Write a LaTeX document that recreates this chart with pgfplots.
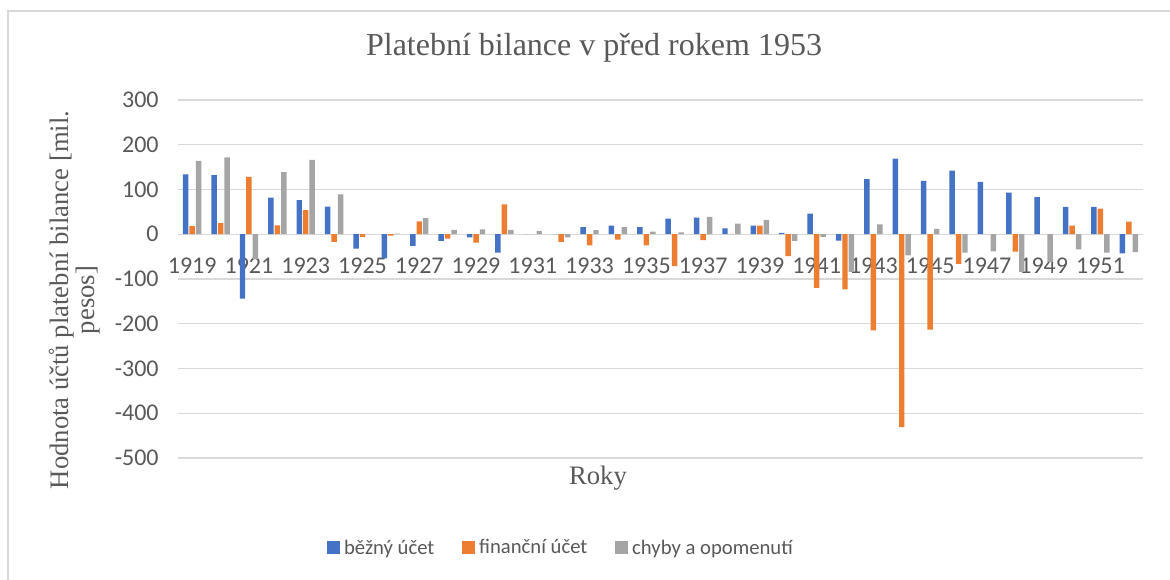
\documentclass[border=0pt]{standalone}
\usepackage{pgfplots}
\pgfplotsset{compat=1.18}
\usepackage{fontspec}
\setmainfont{Liberation Serif}
\newfontfamily\calibri{Carlito}

\definecolor{cbeh}{HTML}{4472C4}
\definecolor{cfin}{HTML}{ED7D31}
\definecolor{cchy}{HTML}{A5A5A5}
\definecolor{txtgray}{HTML}{595959}
\definecolor{gridgray}{HTML}{D9D9D9}

% rok, bezny ucet, financni ucet, chyby a opomenuti
\pgfplotstableread{
rok  bez   fin   chy
1919 134   18    164
1920 132   25    172
1921 -144  128   -55
1922 82    20    139
1923 76    54    166
1924 62    -17   89
1925 -32   -6    0
1926 -54   -3    1.5
1927 -26   29    36
1928 -15   -10   10
1929 -7    -19   11
1930 -41   67    10
1931 0     0     7
1932 0     -17   -7
1933 16    -25   9
1934 19    -12   16
1935 16    -25   6
1936 35    -71   4
1937 37    -13   39
1938 13    1     24
1939 19    19    32
1940 3     -49   -15
1941 46    -120  -6
1942 -14   -123  -84
1943 123   -215  22
1944 169   -431  -47
1945 119   -213  12
1946 142   -66   -41
1947 117   0     -38
1948 93    -39   -84
1949 83    0     -62
1950 61    19    -34
1951 61    57    -41
1952 -43   28    -40
}\bilance

\begin{document}
\begin{tikzpicture}[x=0.75pt,y=0.75pt]
\useasboundingbox (0,0) rectangle (1170,580);
\draw[gridgray, line width=1pt] (8,-5) -- (8,569) -- (1175,569);

\node[text=txtgray, font=\fontsize{24}{28}\selectfont] at (594,532) {Platební bilance v před rokem 1953};
\node[text=txtgray, font=\fontsize{20}{19.5}\selectfont, rotate=90, align=center] at (75,280)
  {Hodnota účtů platební bilance [mil.\\ pesos]};
\node[text=txtgray, font=\fontsize{20}{24}\selectfont] at (598,102) {Roky};

\begin{axis}[
  at={(133.5pt,91.5pt)}, anchor=south west,
  scale only axis,
  width=723.75pt, height=268.5pt,
  ybar=0.75pt, bar width=4.1pt,
  xmin=1918.5, xmax=1952.5,
  ymin=-500, ymax=300,
  enlargelimits=false,
  axis x line=middle,
  axis y line=left,
  x axis line style={draw=gridgray, line width=1pt, -},
  y axis line style={draw=none, -},
  major tick length=0pt,
  xtick={1919,1921,...,1951},
  ytick={-500,-400,...,300},
  ymajorgrids,
  major grid style={draw=gridgray, line width=1pt},
  /pgf/number format/1000 sep={},
  /pgf/number format/assume math mode=true,
  tick label style={font=\calibri\fontsize{18}{20}\selectfont, text=txtgray},
  xticklabel style={yshift=-14pt},
  yticklabel style={xshift=-11pt},
  legend columns=3,
  legend style={at={(0.398,-0.251)}, anchor=center, draw=none,
    font=\calibri\fontsize{15.5}{18}\selectfont, text=txtgray,
    nodes={inner sep=3pt},
    /tikz/every even column/.append style={column sep=18pt}},
  legend image code/.code={\fill[#1] (0pt,-4.8pt) rectangle (9.6pt,4.8pt);},
]
\addplot[fill=cbeh, draw=none] table[x=rok, y=bez] {\bilance};
\addplot[fill=cfin, draw=none] table[x=rok, y=fin] {\bilance};
\addplot[fill=cchy, draw=none] table[x=rok, y=chy] {\bilance};
\legend{běžný účet, finanční účet, chyby a opomenutí}
\end{axis}
\end{tikzpicture}
\end{document}
